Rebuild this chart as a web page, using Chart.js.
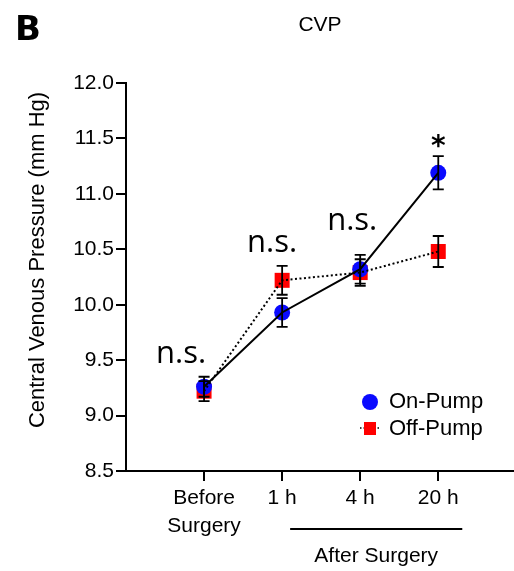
<!DOCTYPE html>
<html>
<head>
<meta charset="utf-8">
<script src="https://cdn.jsdelivr.net/npm/chart.js@4"></script>
<style>
  html, body { margin: 0; padding: 0; background: #fff; overflow: hidden; }
  #wrap { width: 514px; height: 571px; position: relative; }
  #cvp { display: block; }
</style>
</head>
<body>
<div id="wrap"><canvas id="cvp" width="514" height="571"></canvas></div>
<script>
// Time points (multi-line label for the baseline measurement)
const categories = [['Before', 'Surgery'], '1 h', '4 h', '20 h'];

// Central venous pressure, mean and SEM (mm Hg)
const onPump = [9.26, 9.93, 10.32, 11.19];
const onPumpSem = [0.09, 0.13, 0.13, 0.15];
const offPump = [9.22, 10.22, 10.29, 10.48];
const offPumpSem = [0.09, 0.13, 0.12, 0.14];

// Significance marks above each time point
const sigLabels = ['n.s.', 'n.s.', 'n.s.', '*'];

// Value axis
const yMin = 8.5;
const yMax = 12.0;
const yStep = 0.5;

const SANS = '"Liberation Sans", Arial, sans-serif';
const BLUE = '#0a0aff';
const RED = '#ff0000';

const toPoints = arr => arr.map((v, i) => ({ x: i, y: v }));

// Error bars, labels, legend and annotations drawn on top of the datasets
const decorations = {
  id: 'decorations',
  afterDatasetsDraw(chart) {
    const { ctx, scales: { x, y } } = chart;
    ctx.save();
    ctx.strokeStyle = '#000';
    ctx.lineWidth = 1.8;
    const drawBars = (means, sems) => {
      means.forEach((m, i) => {
        const px = x.getPixelForValue(i);
        const top = y.getPixelForValue(m + sems[i]);
        const bot = y.getPixelForValue(m - sems[i]);
        ctx.beginPath();
        ctx.moveTo(px, top); ctx.lineTo(px, bot);
        ctx.moveTo(px - 5.5, top); ctx.lineTo(px + 5.5, top);
        ctx.moveTo(px - 5.5, bot); ctx.lineTo(px + 5.5, bot);
        ctx.stroke();
      });
    };
    drawBars(offPump, offPumpSem);
    drawBars(onPump, onPumpSem);
    ctx.restore();
  },
  afterDraw(chart) {
    const { ctx, scales: { x, y } } = chart;
    ctx.save();
    ctx.fillStyle = '#000';

    // Panel letter
    ctx.font = 'bold 34px "DejaVu Sans", sans-serif';
    ctx.textAlign = 'left';
    ctx.textBaseline = 'alphabetic';
    ctx.fillText('B', 15, 40);

    // Panel title
    ctx.font = '21px ' + SANS;
    ctx.textAlign = 'center';
    ctx.textBaseline = 'middle';
    ctx.fillText('CVP', (chart.chartArea.left + chart.chartArea.right) / 2, 25);

    // Y axis title
    ctx.save();
    ctx.translate(38, 260);
    ctx.rotate(-Math.PI / 2);
    ctx.font = '22px ' + SANS;
    ctx.fillText('Central Venous Pressure (mm Hg)', 0, 0);
    ctx.restore();

    // Bracket for the post-operative time points
    const x1 = x.getPixelForValue(1) + 8;
    const x2 = x.getPixelForValue(3) + 24;
    ctx.strokeStyle = '#000';
    ctx.lineWidth = 2;
    ctx.beginPath();
    ctx.moveTo(x1, 529); ctx.lineTo(x2, 529);
    ctx.stroke();
    ctx.font = '21px ' + SANS;
    ctx.fillText('After Surgery', (x1 + x2) / 2, 556);

    // Significance annotations
    const offsets = [
      { dx: -23, dy: -14 },
      { dx: -10, dy: -14 },
      { dx: -8, dy: -25 },
      { dx: 0, dy: -3 }
    ];
    ctx.font = '31px "Open Sans", "Noto Sans", sans-serif';
    ctx.textBaseline = 'alphabetic';
    ctx.fillStyle = '#000';
    sigLabels.forEach((t, i) => {
      const topVal = Math.max(onPump[i] + onPumpSem[i], offPump[i] + offPumpSem[i]);
      const px = x.getPixelForValue(i) + offsets[i].dx;
      const py = y.getPixelForValue(topVal) + offsets[i].dy;
      if (t === '*') {
        ctx.save();
        ctx.font = 'bold 28px "DejaVu Sans", sans-serif';
        ctx.fillText(t, px, py + 2);
        ctx.restore();
      } else {
        ctx.fillText(t, px, py);
      }
    });

    // Legend
    const lx = 370;
    ctx.fillStyle = BLUE;
    ctx.beginPath();
    ctx.arc(lx, 402, 8, 0, Math.PI * 2);
    ctx.fill();
    ctx.strokeStyle = '#000';
    ctx.lineWidth = 1.5;
    ctx.setLineDash([1.5, 2]);
    ctx.beginPath();
    ctx.moveTo(lx - 10, 428); ctx.lineTo(lx + 10, 428);
    ctx.stroke();
    ctx.setLineDash([]);
    ctx.fillStyle = RED;
    ctx.fillRect(lx - 6, 422, 12, 13);
    ctx.fillStyle = '#000';
    ctx.font = '22px ' + SANS;
    ctx.textAlign = 'left';
    ctx.textBaseline = 'middle';
    ctx.fillText('On-Pump', 389, 402);
    ctx.fillText('Off-Pump', 389, 429);

    ctx.restore();
  }
};

new Chart(document.getElementById('cvp'), {
  type: 'line',
  data: {
    datasets: [
      // connecting lines sit above the markers
      {
        label: 'On-Pump line',
        data: toPoints(onPump),
        borderColor: '#000',
        borderWidth: 2,
        pointRadius: 0,
        tension: 0,
        fill: false,
        order: 1
      },
      {
        label: 'Off-Pump line',
        data: toPoints(offPump),
        borderColor: '#000',
        borderWidth: 2,
        borderDash: [2, 2.5],
        pointRadius: 0,
        tension: 0,
        fill: false,
        order: 2
      },
      {
        label: 'On-Pump',
        data: toPoints(onPump),
        showLine: false,
        pointStyle: 'circle',
        pointRadius: 8,
        pointBackgroundColor: BLUE,
        pointBorderColor: BLUE,
        pointBorderWidth: 0,
        order: 3
      },
      {
        label: 'Off-Pump',
        data: toPoints(offPump),
        showLine: false,
        pointStyle: 'rect',
        pointRadius: 10.6,
        pointBackgroundColor: RED,
        pointBorderColor: RED,
        pointBorderWidth: 0,
        order: 4
      }
    ]
  },
  options: {
    responsive: false,
    animation: false,
    devicePixelRatio: 1,
    layout: { autoPadding: false, padding: { top: 83, left: 0, right: 0, bottom: 0 } },
    plugins: {
      legend: { display: false },
      tooltip: { enabled: false },
      title: { display: false }
    },
    scales: {
      x: {
        type: 'linear',
        min: -1,
        max: 3.97,
        afterBuildTicks: s => { s.ticks = categories.map((_, i) => ({ value: i })); },
        afterFit: s => { s.height = 100; s.paddingLeft = 0; s.paddingRight = 0; },
        ticks: {
          autoSkip: false,
          maxRotation: 0,
          color: '#000',
          padding: 4,
          font: { family: SANS, size: 21, lineHeight: 1.3 },
          callback: v => categories[v]
        },
        grid: {
          drawOnChartArea: false,
          drawTicks: true,
          tickLength: 10,
          color: '#000',
          lineWidth: 2
        },
        border: { display: true, color: '#000', width: 2 }
      },
      y: {
        min: yMin,
        max: yMax,
        afterFit: s => { s.width = 126; },
        ticks: {
          stepSize: yStep,
          color: '#000',
          padding: 2,
          font: { family: SANS, size: 21 },
          callback: v => Number(v).toFixed(1)
        },
        grid: {
          drawOnChartArea: false,
          drawTicks: true,
          tickLength: 10,
          color: '#000',
          lineWidth: 2
        },
        border: { display: true, color: '#000', width: 2 }
      }
    }
  },
  plugins: [decorations]
});
</script>
</body>
</html>
